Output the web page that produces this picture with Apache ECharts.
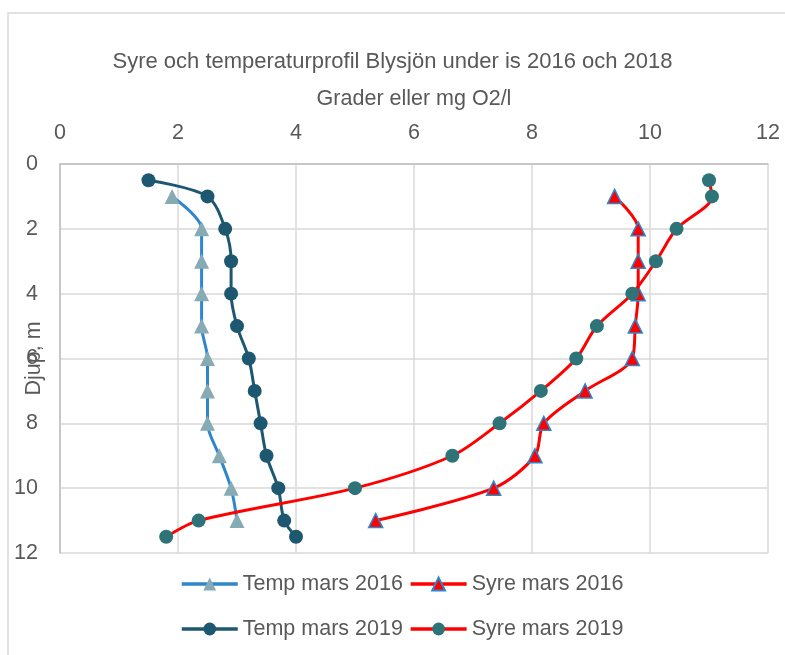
<!DOCTYPE html>
<html>
<head>
<meta charset="utf-8">
<script src="https://cdn.jsdelivr.net/npm/echarts@6/dist/echarts.min.js"></script>
<style>html,body{margin:0;padding:0;background:#fff}#c{width:785px;height:655px}</style>
</head>
<body>
<div id="c"></div>
<script>
var titleText = 'Syre och temperaturprofil Blysjön under is 2016 och 2018';
var xName = 'Grader eller mg O2/l';
var yName = 'Djup, m';
var seriesNames = ['Temp mars 2016', 'Syre mars 2016', 'Temp mars 2019', 'Syre mars 2019'];

var depth2016 = [1, 2, 3, 4, 5, 6, 7, 8, 9, 10, 11];
var temp2016 = [1.9, 2.4, 2.4, 2.4, 2.4, 2.5, 2.5, 2.5, 2.7, 2.9, 3.0];
var syre2016 = [9.4, 9.8, 9.8, 9.8, 9.75, 9.7, 8.9, 8.2, 8.05, 7.35, 5.35];

var depth2019 = [0.5, 1, 2, 3, 4, 5, 6, 7, 8, 9, 10, 11, 11.5];
var temp2019 = [1.5, 2.5, 2.8, 2.9, 2.9, 3.0, 3.2, 3.3, 3.4, 3.5, 3.7, 3.8, 4.0];
var syre2019 = [11.0, 11.05, 10.45, 10.1, 9.7, 9.1, 8.75, 8.15, 7.45, 6.65, 5.0, 2.35, 1.8];

function pairs(xs, ys) { return xs.map(function (v, i) { return [v, ys[i]]; }); }

var FONT = 'Liberation Sans, Arial, sans-serif';
var TXT = '#595959';

var legendCommon = {
  left: 180, padding: 0, itemWidth: 56, itemHeight: 16, itemGap: 6,
  lineStyle: { width: 3.5 },
  textStyle: { fontFamily: FONT, fontSize: 21.5, color: TXT, padding: [0, 0, 0, 0] }
};

var chart = echarts.init(document.getElementById('c'));
chart.setOption({
  animation: false,
  backgroundColor: '#fff',
  graphic: [{
    type: 'rect', shape: { x: 8, y: 13, width: 800, height: 700 },
    style: { fill: 'none', stroke: '#D9D9D9', lineWidth: 1.5 }, silent: true
  }],
  title: {
    text: titleText, left: 'center', top: 46,
    textStyle: { fontFamily: FONT, fontSize: 22, fontWeight: 'normal', color: TXT }
  },
  legend: [
    Object.assign({ data: [seriesNames[0], seriesNames[1]], top: 573 }, legendCommon),
    Object.assign({ data: [seriesNames[2], seriesNames[3]], top: 618 }, legendCommon)
  ],
  grid: { left: 60, right: 17, top: 164, bottom: 102, containLabel: false, outerBoundsMode: 'none' },
  xAxis: {
    type: 'value', position: 'top', min: 0, max: 12, interval: 2,
    name: xName, nameLocation: 'middle', nameGap: 54, nameMoveOverlap: false,
    nameTextStyle: { fontFamily: FONT, fontSize: 21.5, color: TXT },
    axisLine: { show: true, lineStyle: { color: '#BFBFBF', width: 1.5 } },
    axisTick: { show: false },
    axisLabel: { fontFamily: FONT, fontSize: 21.5, color: TXT, margin: 20 },
    splitLine: { show: true, lineStyle: { color: '#D9D9D9', width: 1.5 } }
  },
  yAxis: {
    type: 'value', inverse: true, min: 0, max: 12, interval: 2,
    name: yName, nameLocation: 'middle', nameGap: 15, nameRotate: 90, nameMoveOverlap: false,
    nameTextStyle: { fontFamily: FONT, fontSize: 21.5, color: TXT },
    axisLine: { show: true, lineStyle: { color: '#BFBFBF', width: 1.5 } },
    axisTick: { show: false },
    axisLabel: { fontFamily: FONT, fontSize: 21.5, color: TXT, margin: 22 },
    splitLine: { show: true, lineStyle: { color: '#D9D9D9', width: 1.5 } }
  },
  series: [{
    name: seriesNames[0], type: 'line', smooth: 0.3,
    data: pairs(temp2016, depth2016),
    symbol: 'triangle', symbolSize: 15,
    lineStyle: { color: '#2E86CC', width: 3 },
    itemStyle: { color: '#86ABB5', borderWidth: 0 }, z: 2
  }, {
    name: seriesNames[1], type: 'line', smooth: 0.3,
    data: pairs(syre2016, depth2016),
    symbol: 'triangle', symbolSize: 14,
    lineStyle: { color: '#FF0000', width: 3 },
    itemStyle: { color: '#FF0000', borderColor: '#2E86CC', borderWidth: 1.5 }, z: 3
  }, {
    name: seriesNames[2], type: 'line', smooth: 0.3,
    data: pairs(temp2019, depth2019),
    symbol: 'circle', symbolSize: 14,
    lineStyle: { color: '#1E5870', width: 3 },
    itemStyle: { color: '#1E5870', borderWidth: 0 }, z: 2
  }, {
    name: seriesNames[3], type: 'line', smooth: 0.3,
    data: pairs(syre2019, depth2019),
    symbol: 'circle', symbolSize: 14,
    lineStyle: { color: '#FF0000', width: 3 },
    itemStyle: { color: '#2E7378', borderWidth: 0 }, z: 4
  }]
});
</script>
</body>
</html>
